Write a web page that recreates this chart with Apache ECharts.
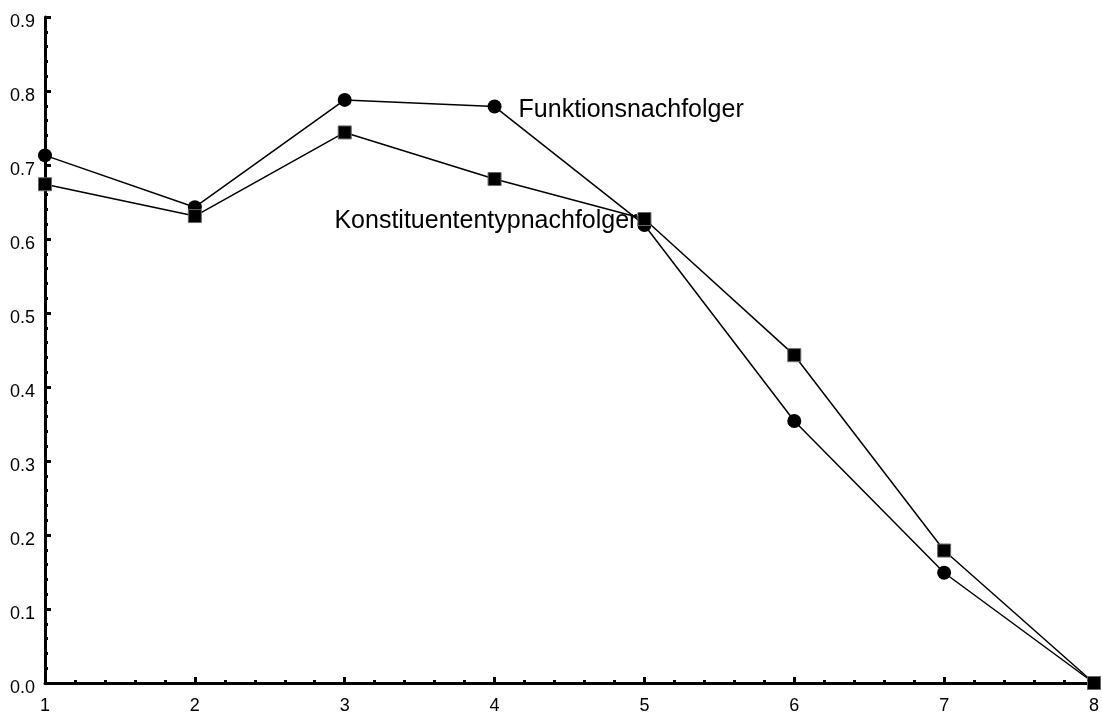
<!DOCTYPE html>
<html><head><meta charset="utf-8">
<script src="https://cdn.jsdelivr.net/npm/echarts@6/dist/echarts.min.js"></script>
<style>html,body{margin:0;padding:0;background:#fff}#c{width:1102px;height:715px}</style>
</head><body><div id="c"></div>
<script>
const xValues = [1, 2, 3, 4, 5, 6, 7, 8];
const funktion = [0.713, 0.643, 0.788, 0.779, 0.619, 0.354, 0.149, 0.0];
const konstituent = [0.674, 0.631, 0.744, 0.681, 0.627, 0.443, 0.179, 0.0];
const seriesNames = ['Funktionsnachfolger', 'Konstituententypnachfolger'];
const labelIndex = [3, 4];

const chart = echarts.init(document.getElementById('c'), null, {renderer: 'canvas'});
const font = 'Liberation Sans, Arial, sans-serif';
function mk(vals, idx, name) {
  return vals.map((v, i) => {
    const d = {value: [xValues[i], v]};
    if (i === idx) {
      d.label = {show: true, formatter: name};
    }
    return d;
  });
}
const axisCommon = {
  axisLine: {show: true, onZero: false, lineStyle: {color: '#000', width: 3}},
  axisTick: {show: true, inside: true, length: 6, lineStyle: {color: '#000', width: 3}},
  minorTick: {show: true, splitNumber: 5, length: 3, lineStyle: {color: '#000', width: 3}},
  splitLine: {show: false},
  axisLabel: {color: '#000', fontFamily: font, fontSize: 18}
};
chart.setOption({
  animation: false,
  grid: {left: 45, right: 8, top: 17, bottom: 29, containLabel: false},
  xAxis: Object.assign({}, axisCommon, {
    type: 'value', min: 1, max: 8, interval: 1,
    axisLabel: Object.assign({}, axisCommon.axisLabel, {margin: 14})
  }),
  yAxis: Object.assign({}, axisCommon, {
    type: 'value', min: 0, max: 0.9, interval: 0.1,
    axisLabel: Object.assign({}, axisCommon.axisLabel, {margin: 10, verticalAlign: 'top', lineHeight: 10, formatter: v => v.toFixed(1)})
  }),
  series: [
    {
      name: seriesNames[0], type: 'line', data: mk(funktion, labelIndex[0], seriesNames[0]),
      symbol: 'circle', symbolSize: 14,
      lineStyle: {color: '#000', width: 1.5},
      itemStyle: {color: '#000'},
      label: {position: 'right', distance: 17, offset: [0, 4], color: '#000', fontFamily: font, fontSize: 25}
    },
    {
      name: seriesNames[1], type: 'line', data: mk(konstituent, labelIndex[1], seriesNames[1]),
      symbol: 'rect', symbolSize: 13,
      lineStyle: {color: '#000', width: 1.5},
      itemStyle: {color: '#000', borderColor: '#666', borderWidth: 1},
      label: {position: 'left', distance: 0, offset: [0, 2], color: '#000', fontFamily: font, fontSize: 25}
    }
  ]
});
</script></body></html>
